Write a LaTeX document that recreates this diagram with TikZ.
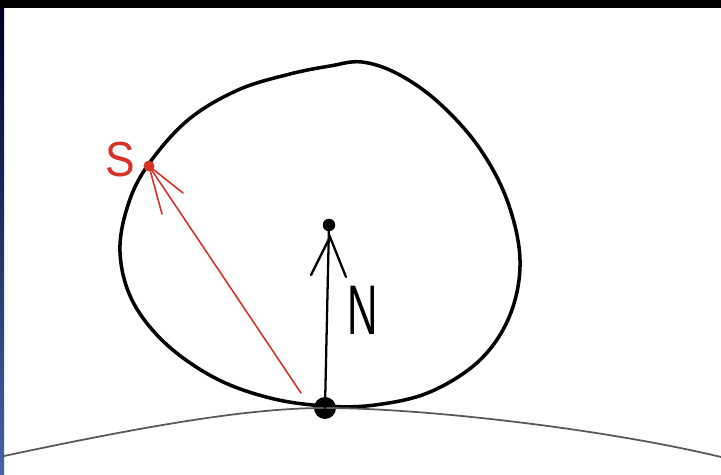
\documentclass[tikz,border=0pt]{standalone}
\usepackage{fontspec}
\setmainfont{Liberation Sans}
\usepackage{tikz}
\usetikzlibrary{calc}

\definecolor{sred}{RGB}{214,50,40}
\definecolor{edgeblue}{RGB}{72,100,158}

\begin{document}
\begin{tikzpicture}[
    x=0.02cm, y=-0.02cm,
    blob/.style={line width=2pt, line join=round, line cap=round},
    dot/.style={circle, fill=black, inner sep=0pt, minimum size=#1},
    nline/.style={line width=1.3pt, line cap=round},
    sline/.style={line width=0.9pt, draw=sred, line cap=round},
    ground/.style={line width=1pt, draw=black!65},
    lbl/.style={inner sep=0pt, font=\fontsize{40}{42}\selectfont}
]
\useasboundingbox (0,0) rectangle (721,475);
\fill[white] (0,0) rectangle (721,475);
\fill[black] (0,0) rectangle (721,8);
\shade[top color=black!85!blue, bottom color=edgeblue] (0,8) rectangle (4,475);

\draw[blob] plot[smooth cycle, tension=0.6] coordinates {
    (325,406) (270,398) (215,378) (165,343) (132,300) (120,252) (128,205)
    (148,165) (188,120) (238,90) (290,74) (330,66) (362,62)
    (398,74) (438,102) (478,146) (507,200) (520,260) (510,315)
    (480,360) (430,392) (375,405)};

\node[dot=0.44cm] (P) at (325,408) {};
\node[dot=0.25cm] (C) at (329,225) {};
\node[dot=0.22cm, fill=sred] (S) at (149,166) {};

\draw[ground] (4,456) .. controls (150,425) and (250,408) .. (P.center)
    .. controls (420,408) and (600,428) .. (721,457);

\coordinate (Ntip) at (330,237);
\coordinate (Nl) at (311,275);
\coordinate (Nr) at (346,277);
\draw[nline] (P.center) -- (C.center);
\draw[nline] (Nl) -- (Ntip) -- (Nr);

\coordinate (Sfoot) at (301,393);
\coordinate (Sr) at (183,193);
\coordinate (Sl) at (162,214);
\draw[sline] (Sfoot) -- (S.center);
\draw[sline] (Sr) -- (S.center) -- (Sl);

\node[lbl] (Nlab) at (363,310) {\scalebox{0.6}[1]{N}};
\node[lbl, text=sred, font=\fontsize{28}{30}\selectfont] (Slab) at (120,160) {\scalebox{0.9}[1]{S}};
\end{tikzpicture}
\end{document}
